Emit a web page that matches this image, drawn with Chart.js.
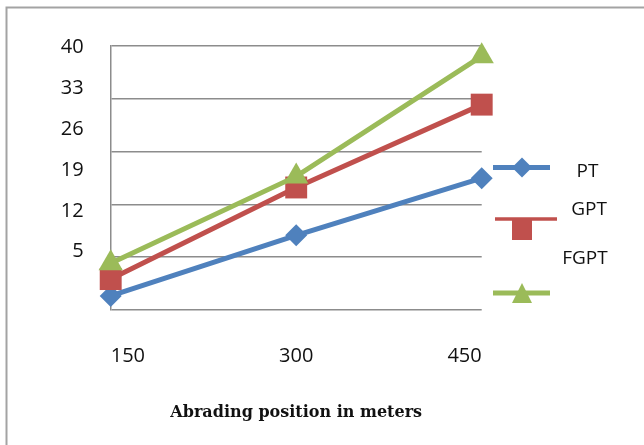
<!DOCTYPE html>
<html>
<head>
<meta charset="utf-8">
<script src="https://cdn.jsdelivr.net/npm/chart.js@4/dist/chart.umd.min.js"></script>
<style>
  html, body { margin: 0; padding: 0; background: #ffffff; }
  canvas { display: block; }
</style>
</head>
<body>
<canvas id="chart" width="644" height="445"></canvas>
<script>
// Abrasion at three positions along the belt
const positions = ['150', '300', '450'];
const seriesNames = ['PT', 'GPT', 'FGPT'];
const ptValues = [-2.6, 7.8, 17.6];
const gptValues = [0.3, 16.0, 30.2];
const fgptValues = [3.0, 17.9, 38.5];
const yTickValues = [5, 12, 19, 26, 33, 40];

const seriesColors = ['#4f81bd', '#c0504d', '#9bbb59'];
const seriesMarkers = ['rectRot', 'rect', 'triangle'];
const markerRadius = [11, 15.5, 14];

const textColor = '#111111';
const gridColor = '#8c8c8c';
const tickFont = { family: "'Open Sans', 'Liberation Sans', sans-serif", size: 20 };

// Outer frame around the figure
const framePlugin = {
  id: 'frame',
  beforeDraw(chart) {
    const ctx = chart.ctx;
    ctx.save();
    ctx.fillStyle = '#ffffff';
    ctx.fillRect(0, 0, chart.width, chart.height);
    ctx.strokeStyle = '#a3a3a3';
    ctx.lineWidth = 2;
    ctx.beginPath();
    ctx.moveTo(6.5, chart.height + 2);
    ctx.lineTo(6.5, 7.5);
    ctx.lineTo(chart.width + 2, 7.5);
    ctx.stroke();
    ctx.restore();
  }
};

// Legend on the right: a line sample with its marker, names stacked beside
const sideLegend = {
  id: 'sideLegend',
  afterDraw(chart) {
    const ctx = chart.ctx;
    const sets = chart.data.datasets;
    const rows = [
      { lineY: 167.5, x0: 493, x1: 550, lw: 5, textX: 587.5, textY: 172 },
      { lineY: 219, x0: 495, x1: 557, lw: 3.5, textX: 589, textY: 210 },
      { lineY: 293, x0: 493, x1: 550, lw: 5, textX: 585, textY: 259 }
    ];
    ctx.save();
    sets.forEach((ds, i) => {
      const r = rows[i];
      ctx.strokeStyle = ds.borderColor;
      ctx.fillStyle = ds.borderColor;
      ctx.lineWidth = r.lw;
      ctx.beginPath();
      ctx.moveTo(r.x0, r.lineY);
      ctx.lineTo(r.x1, r.lineY);
      ctx.stroke();
      const cx = 522;
      if (ds.pointStyle === 'rectRot') {
        ctx.beginPath();
        ctx.moveTo(cx, r.lineY - 10);
        ctx.lineTo(cx + 10, r.lineY);
        ctx.lineTo(cx, r.lineY + 10);
        ctx.lineTo(cx - 10, r.lineY);
        ctx.closePath();
        ctx.fill();
      } else if (ds.pointStyle === 'rect') {
        ctx.fillRect(cx - 10, r.lineY, 20, 21);
      } else {
        ctx.beginPath();
        ctx.moveTo(cx, r.lineY - 10);
        ctx.lineTo(cx + 10, r.lineY + 10);
        ctx.lineTo(cx - 10, r.lineY + 10);
        ctx.closePath();
        ctx.fill();
      }
      ctx.fillStyle = textColor;
      ctx.font = "19px 'Open Sans', 'Liberation Sans', sans-serif";
      ctx.textAlign = 'center';
      ctx.textBaseline = 'middle';
      ctx.fillText(ds.label, r.textX, r.textY);
    });
    ctx.restore();
  }
};

const valueSets = [ptValues, gptValues, fgptValues];
const datasets = seriesNames.map((name, i) => ({
  label: name,
  data: valueSets[i],
  yAxisID: 'y',
  borderColor: seriesColors[i],
  backgroundColor: seriesColors[i],
  borderWidth: 5,
  pointStyle: seriesMarkers[i],
  pointRadius: markerRadius[i],
  pointBorderWidth: 0,
  pointBackgroundColor: seriesColors[i],
  pointBorderColor: seriesColors[i],
  tension: 0,
  clip: false,
  order: 2 - i
}));

new Chart(document.getElementById('chart'), {
  type: 'line',
  data: { labels: positions, datasets: datasets },
  plugins: [framePlugin, sideLegend],
  options: {
    responsive: false,
    animation: false,
    layout: { padding: { top: 45.7, right: 162.3, left: 0, bottom: 0 } },
    plugins: {
      legend: { display: false },
      tooltip: { enabled: false },
      title: { display: false }
    },
    scales: {
      x: {
        type: 'category',
        offset: false,
        grid: { display: false, drawTicks: false, tickLength: 0 },
        border: { display: false },
        ticks: { align: 'inner', padding: 34, color: textColor, font: tickFont, maxRotation: 0 },
        title: {
          display: true,
          text: 'Abrading position in meters',
          color: '#111111',
          font: { family: "'DejaVu Serif', 'Liberation Serif', serif", size: 16, weight: 'bold' },
          padding: { top: 0, bottom: 23 }
        },
        afterFit(scale) { scale.height = 135; }
      },
      y: {
        type: 'linear',
        position: 'left',
        weight: 1,
        min: -5,
        max: 40.3,
        grid: { display: false, drawTicks: false, tickLength: 0 },
        border: { display: false },
        afterBuildTicks(scale) { scale.ticks = yTickValues.map(v => ({ value: v })); },
        ticks: { padding: 27, color: textColor, font: tickFont },
        afterFit(scale) { scale.width = 110.7; }
      },
      yGrid: {
        type: 'linear',
        position: 'left',
        weight: 0,
        min: 0,
        max: 5,
        ticks: { display: false, stepSize: 1 },
        grid: { color: gridColor, lineWidth: 1.5, drawTicks: false, tickLength: 0 },
        border: { display: true, color: gridColor, width: 1.5 },
        afterFit(scale) { scale.width = 0; }
      }
    }
  }
});
</script>
</body>
</html>
